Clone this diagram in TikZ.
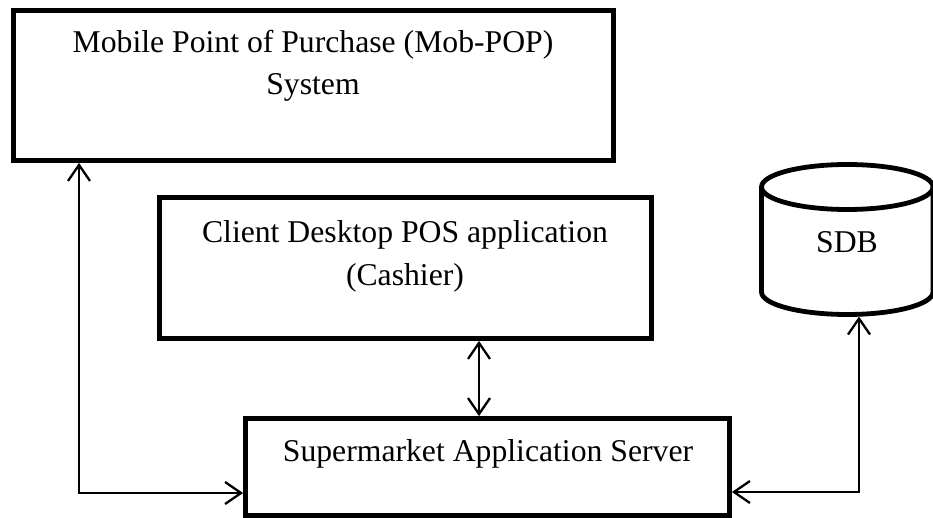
\documentclass[tikz,border=0pt]{standalone}
\usepackage{fontspec}
\setmainfont{Liberation Serif}
\usetikzlibrary{arrows.meta}

\tikzset{
  box/.style={draw=black, line width=4.8pt, rectangle, inner sep=0pt, fill=white},
  lbl/.style={font=\fontsize{31.7}{42.5}\selectfont, align=center, inner sep=0pt, anchor=base},
  conn/.style={draw=black, line width=2.3pt, line join=miter,
    {Straight Barb[length=16pt, width=22pt, line width=2.3pt]}-{Straight Barb[length=16pt, width=22pt, line width=2.3pt]}},
  dbline/.style={draw=black, line width=4.8pt}
}

\begin{document}
\begin{tikzpicture}[x=1pt, y=-1pt]
  \useasboundingbox (0,0) rectangle (933,518);
  \fill[white] (0,0) rectangle (933,518);

  % system boxes
  \node[box, minimum width=600pt, minimum height=150pt] (pop) at (313.5,85.5) {};
  \node[box, minimum width=492pt, minimum height=141pt] (cli) at (405.5,268) {};
  \node[box, minimum width=484pt, minimum height=97pt]  (srv) at (487.5,467) {};

  % box captions (base anchor sits on the last line)
  \node[lbl] (popT) at (313,95)  {Mobile Point of Purchase (Mob-POP)\\System};
  \node[lbl] (cliT) at (405,285) {Client Desktop POS application\\(Cashier)};
  \node[lbl] (srvT) at (488,461) {Supermarket Application Server};

  % database cylinder
  \draw[dbline] (761.5,187) -- (761.5,292)
    arc[start angle=180, end angle=360, x radius=85.75pt, y radius=22.5pt]
    -- (933,187);
  \draw[dbline] (847.25,187) ellipse[x radius=85.75pt, y radius=22.5pt];
  \node[lbl] (sdbT) at (847,253) {SDB};
  \coordinate (sdbB) at (859,316.5);

  % connectors
  \coordinate (lc) at (79,493);
  \coordinate (rc) at (859,492);
  \draw[conn] (lc |- pop.south) -- (lc) -- (srv.west |- lc);
  \draw[conn] (cli.south -| 479,0) -- (srv.north -| 479,0);
  \draw[conn] (srv.east |- rc) -- (rc) -- (sdbB);
\end{tikzpicture}
\end{document}
